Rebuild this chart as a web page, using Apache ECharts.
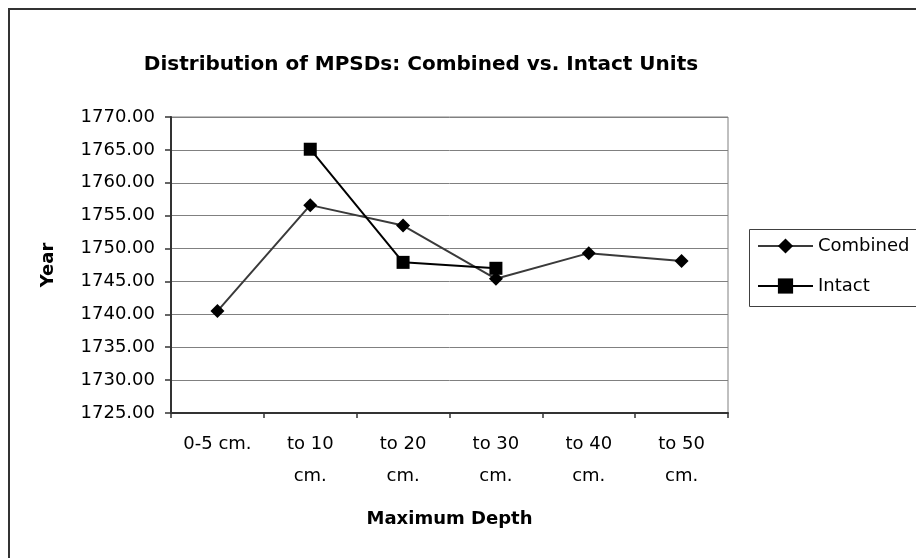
<!DOCTYPE html>
<html>
<head>
<meta charset="utf-8">
<script src="https://cdn.jsdelivr.net/npm/echarts@6/dist/echarts.min.js"></script>
<style>
  html, body { margin: 0; padding: 0; background: #fff; }
  #chart { width: 916px; height: 558px; }
</style>
</head>
<body>
<div id="chart"></div>
<script>
// values
const depths = ['0-5 cm.', 'to 10 cm.', 'to 20 cm.', 'to 30 cm.', 'to 40 cm.', 'to 50 cm.'];
const combined = [1740.5, 1756.6, 1753.5, 1745.4, 1749.3, 1748.1];
const intact = [null, 1765.1, 1747.9, 1747.0, null, null];
const yMin = 1725;
const yMax = 1770;
const yStep = 5;

// the picture's text is wide, DejaVu fits its widths better than Arial
const font = 'DejaVu Sans, Liberation Sans, sans-serif';

const chart = echarts.init(document.getElementById('chart'));

chart.setOption({
  animation: false,
  backgroundColor: '#fff',
  title: {
    text: 'Distribution of MPSDs: Combined vs. Intact Units',
    left: 421,
    top: 55,
    padding: 0,
    textAlign: 'center',
    textStyle: { fontFamily: font, fontSize: 20, fontWeight: 'bold', color: '#000' }
  },
  legend: {
    orient: 'vertical',
    left: 757,
    top: 236,
    padding: 0,
    itemWidth: 55,
    itemHeight: 19,
    itemGap: 20,
    data: ['Combined', 'Intact'],
    textStyle: { fontFamily: font, fontSize: 18, color: '#000', lineHeight: 20 }
  },
  grid: {
    left: 171,
    top: 117,
    width: 557,
    height: 296,
    show: true,
    borderColor: '#808080',
    borderWidth: 1,
    backgroundColor: 'transparent'
  },
  xAxis: {
    type: 'category',
    data: depths,
    boundaryGap: true,
    name: 'Maximum Depth',
    nameLocation: 'middle',
    nameGap: 106,
    nameTextStyle: { fontFamily: font, fontSize: 18, fontWeight: 'bold', color: '#000', verticalAlign: 'middle' },
    axisLine: { lineStyle: { color: '#333', width: 2 } },
    axisTick: { show: true, length: 5, lineStyle: { color: '#333', width: 1.5 } },
    axisLabel: {
      margin: 15,
      fontFamily: font,
      fontSize: 18,
      color: '#000',
      lineHeight: 32,
      interval: 0,
      formatter: v => v.startsWith('to') ? v.replace(' cm.', '\ncm.') : v
    },
    splitLine: { show: false }
  },
  yAxis: {
    type: 'value',
    min: yMin,
    max: yMax,
    interval: yStep,
    name: 'Year',
    nameLocation: 'middle',
    nameRotate: 90,
    nameGap: 123,
    nameTextStyle: { fontFamily: font, fontSize: 18, fontWeight: 'bold', color: '#000', verticalAlign: 'middle' },
    axisLine: { show: true, lineStyle: { color: '#333', width: 2 } },
    axisTick: { show: true, length: 6, lineStyle: { color: '#333', width: 1.5 } },
    axisLabel: {
      margin: 16,
      fontFamily: font,
      fontSize: 18,
      color: '#000',
      formatter: v => v.toFixed(2)
    },
    splitLine: { show: true, lineStyle: { color: '#808080', width: 1 } }
  },
  graphic: [
    {
      type: 'rect',
      shape: { x: 9, y: 9, width: 1000, height: 1000 },
      style: { fill: 'none', stroke: '#333', lineWidth: 2 },
      silent: true
    },
    {
      type: 'rect',
      shape: { x: 749.5, y: 229.5, width: 200, height: 77 },
      style: { fill: 'none', stroke: '#404040', lineWidth: 1 },
      silent: true
    }
  ],
  series: [
    {
      name: 'Combined',
      type: 'line',
      data: combined,
      symbol: 'diamond',
      symbolSize: 14,
      itemStyle: { color: '#000' },
      lineStyle: { color: '#3a3a3a', width: 2 }
    },
    {
      name: 'Intact',
      type: 'line',
      data: intact,
      symbol: 'rect',
      symbolSize: 13,
      itemStyle: { color: '#000' },
      lineStyle: { color: '#000', width: 2 }
    }
  ]
});
</script>
</body>
</html>
